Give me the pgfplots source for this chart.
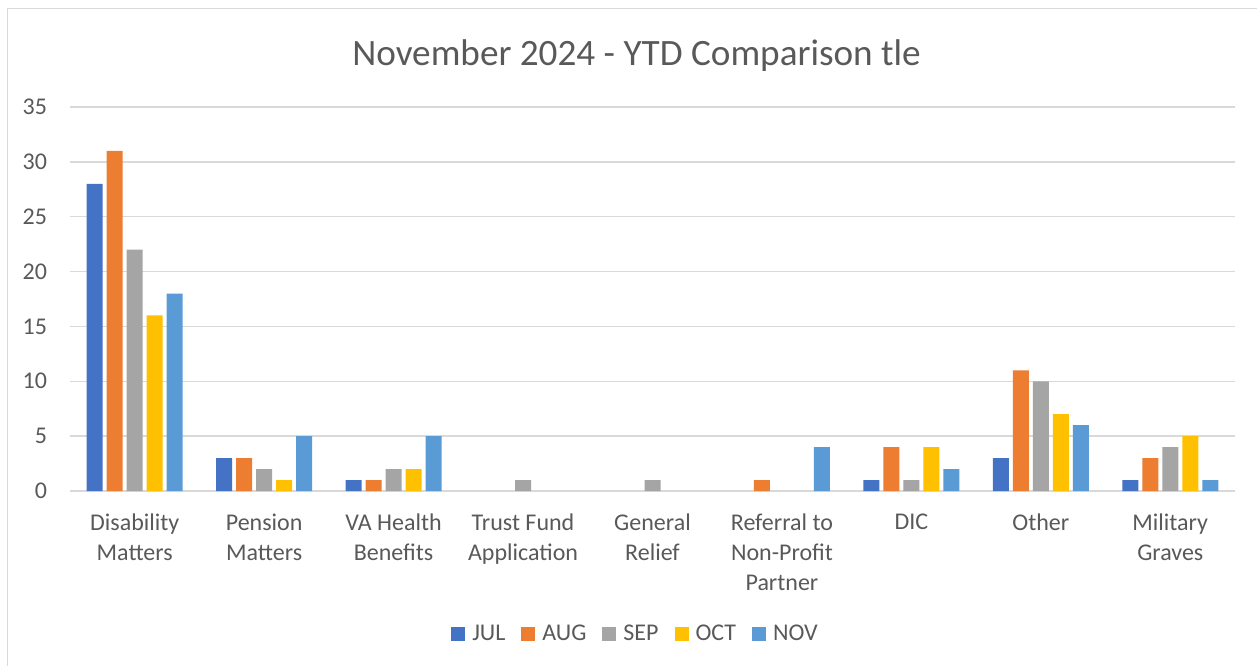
\documentclass[border=0pt]{standalone}
\usepackage{pgfplots}
\pgfplotsset{compat=1.18}
\usepackage{fontspec}
\setmainfont{Carlito}
\definecolor{cJUL}{HTML}{4472C4}
\definecolor{cAUG}{HTML}{ED7D31}
\definecolor{cSEP}{HTML}{A5A5A5}
\definecolor{cOCT}{HTML}{FFC000}
\definecolor{cNOV}{HTML}{5B9BD5}
\definecolor{txt}{HTML}{595959}
\definecolor{gridc}{HTML}{D9D9D9}
\begin{document}
\begin{tikzpicture}[x=1pt,y=1pt]
\path[use as bounding box] (0,0) rectangle (628.5,332.5);
\begin{scope}
\clip (0,0) rectangle (628.5,332.5);
\draw[gridc, line width=0.75pt] (3.75,-20) rectangle (640,328.25);
\end{scope}
\node[font=\fontsize{18.6}{22}\selectfont, text=txt] at (318.25,304.5) {November 2024 - YTD Comparison tle};
\begin{axis}[
  at={(35pt,87pt)}, anchor=south west,
  scale only axis, width=582.5pt, height=192pt,
  xmin=-0.5, xmax=8.5, ymin=0, ymax=35,
  ytick={0,5,...,35},
  xtick={0,...,8},
  xticklabels={Disability\\Matters, Pension\\Matters, VA Health\\Benefits, Trust Fund\\Application, General\\Relief, Referral to\\Non-Profit\\Partner, DIC, Other, Military\\Graves},
  xticklabel style={align=center, font=\fontsize{12}{15}\selectfont, text=txt, yshift=-8pt},
  yticklabel style={font=\fontsize{12}{15}\selectfont, text=txt, xshift=-8pt},
  /pgf/number format/assume math mode=true,
  major tick length=0pt,
  axis line style={draw=none},
  ymajorgrids, grid style={gridc, line width=0.75pt},
  bar width=8pt,
  legend style={at={(0.4863,-0.3724)}, anchor=center, draw=none, fill=none,
    legend columns=-1, font=\fontsize{12}{15}\selectfont, text=txt,
    /tikz/every even column/.append style={column sep=6pt},
    /tikz/every odd column/.append style={column sep=1.5pt}},
  legend image code/.code={\fill[#1,draw=none] (0pt,-3.5pt) rectangle (7pt,3.5pt);},
]
\addplot[ybar, bar shift=-20pt, fill=cJUL, draw=none] coordinates {(0,28)(1,3)(2,1)(6,1)(7,3)(8,1)};
\addplot[ybar, bar shift=-10pt, fill=cAUG, draw=none] coordinates {(0,31)(1,3)(2,1)(5,1)(6,4)(7,11)(8,3)};
\addplot[ybar, bar shift=0pt, fill=cSEP, draw=none] coordinates {(0,22)(1,2)(2,2)(3,1)(4,1)(6,1)(7,10)(8,4)};
\addplot[ybar, bar shift=10pt, fill=cOCT, draw=none] coordinates {(0,16)(1,1)(2,2)(6,4)(7,7)(8,5)};
\addplot[ybar, bar shift=20pt, fill=cNOV, draw=none] coordinates {(0,18)(1,5)(2,5)(5,4)(6,2)(7,6)(8,1)};
\legend{JUL,AUG,SEP,OCT,NOV}
\end{axis}
\end{tikzpicture}
\end{document}
